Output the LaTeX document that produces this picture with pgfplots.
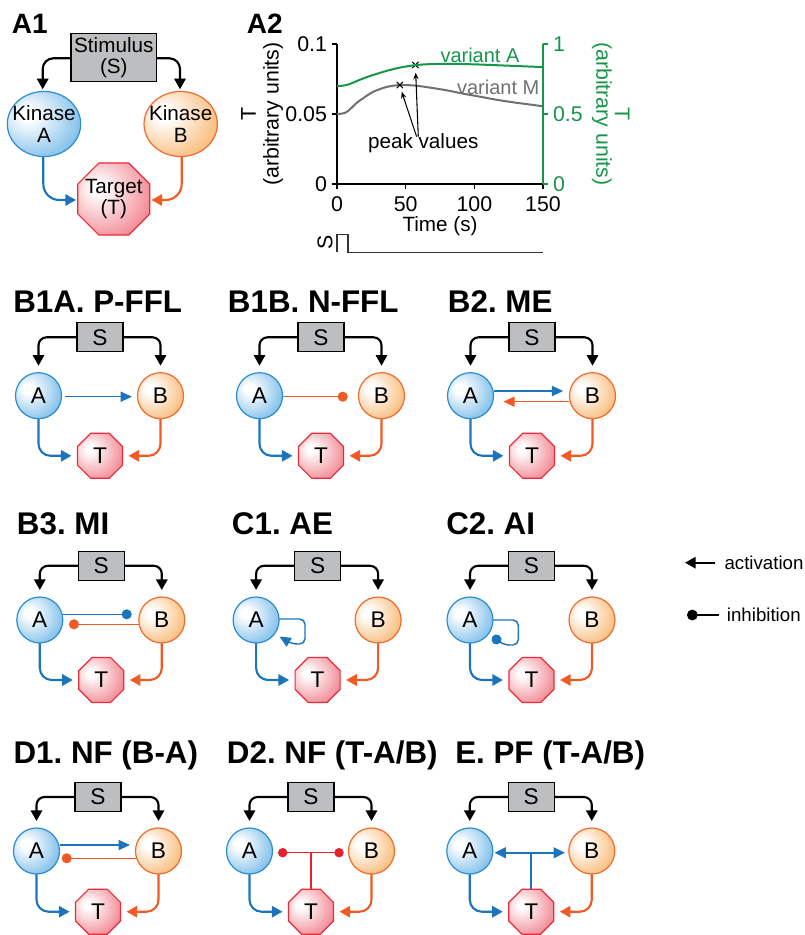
\documentclass[border=0pt]{standalone}
\usepackage{pgfplots}
\pgfplotsset{compat=1.18}
\usepackage{fontspec}
\setmainfont{Liberation Sans}
\usetikzlibrary{arrows.meta,calc,shapes.geometric}
\frenchspacing

\definecolor{cBlue}{HTML}{1C75BC}
\definecolor{cAline}{HTML}{2B8DD0}
\definecolor{cAfill}{HTML}{3F9EDF}
\definecolor{cOrange}{HTML}{F15A24}
\definecolor{cBline}{HTML}{F26B2D}
\definecolor{cBfill}{HTML}{F59A38}
\definecolor{cTline}{HTML}{EC2B3A}
\definecolor{cTfill}{HTML}{EA4A5A}
\definecolor{cRed}{HTML}{E8202E}
\definecolor{cS}{HTML}{BCBEC0}
\definecolor{cGreen}{HTML}{16964A}
\definecolor{cGray}{HTML}{707070}

\pgfdeclareradialshading{ballA}{\pgfpoint{-12bp}{8bp}}{color(0bp)=(white); color(5bp)=(white); color(48bp)=(cAfill); color(80bp)=(cAfill)}
\pgfdeclareradialshading{ballB}{\pgfpoint{-12bp}{8bp}}{color(0bp)=(white); color(5bp)=(white); color(48bp)=(cBfill); color(80bp)=(cBfill)}
\pgfdeclareradialshading{ballT}{\pgfpoint{-12bp}{8bp}}{color(0bp)=(white); color(4bp)=(white); color(50bp)=(cTfill); color(80bp)=(cTfill)}

\newcommand\nf{\fontsize{17}{19}\selectfont}
\newcommand\ttl{\fontsize{23.5}{26}\selectfont\bfseries}
\newcommand\af{\fontsize{15.5}{16}\selectfont}

\tikzset{
  act/.style={-{Triangle[length=8pt,width=8.5pt]}},
  acts/.style={-{Triangle[length=8.5pt,width=7.5pt]}},
  inh/.style={-{Circle[length=7.5pt]}},
  ballnode/.style={circle, line width=0.9pt, minimum size=34.5pt, inner sep=0pt, font=\nf, shade},
}

\newcommand{\octo}[4]{%
  \shadedraw[shading=#4, draw=cTline, line width=0.9pt, shift={(#1,#2)}]
    (22.5:#3) -- (67.5:#3) -- (112.5:#3) -- (157.5:#3) -- (202.5:#3) -- (247.5:#3) -- (292.5:#3) -- (337.5:#3) -- cycle;}

% #1 S x, #2 S y, #3 circle y, #4 T y
\newcommand{\panel}[4]{%
  \draw[line width=1.6pt, act, rounded corners=6pt] (#1-23,#2) -| (#1-61.5,#3-30);
  \draw[line width=1.6pt, act, rounded corners=6pt] (#1+23,#2) -| (#1+60.5,#3-30);
  \draw[cBlue, line width=1.6pt, act, rounded corners=9pt] (#1-61.5,#3+23) |- (#1-28.5,#4);
  \draw[cOrange, line width=1.6pt, act, rounded corners=9pt] (#1+60.5,#3+23) |- (#1+28.5,#4);
  \node[draw=black, line width=1pt, fill=cS, minimum width=34.5pt, minimum height=21.75pt, inner sep=0pt, font=\nf] at (#1,#2) {S};
  \node[ballnode, draw=cAline, shading=ballA] at (#1-61.5,#3) {A};
  \node[ballnode, draw=cBline, shading=ballB] at (#1+60.5,#3) {B};
  \octo{#1}{#4}{24.35}{ballT}
  \node[font=\nf] at (#1,#4) {T};
}

\begin{document}
\begin{tikzpicture}
\path[use as bounding box] (0,0) rectangle (603pt,-701.25pt);

\begin{scope}[x=0.75pt,y=-0.75pt]
% ---------- panel labels ----------
\node[anchor=base west, inner sep=0pt, font=\fontsize{21}{24}\selectfont\bfseries] at (11.7,33.3) {A1};
\node[anchor=base west, inner sep=0pt, font=\fontsize{21}{24}\selectfont\bfseries] at (246.7,33.3) {A2};

% ---------- A1 ----------
\draw[line width=1.6pt, act, rounded corners=8pt] (71,58.3) -| (42.7,89.3);
\draw[line width=1.6pt, act, rounded corners=8pt] (156.7,58.3) -| (180,89.3);
\draw[cBlue, line width=1.6pt, act, rounded corners=12pt] (43.3,156) |- (76,200);
\draw[cOrange, line width=1.6pt, act, rounded corners=12pt] (181.7,156) |- (151.5,200);
\node[draw=black, line width=1pt, fill=cS, minimum width=64.3pt, minimum height=36.3pt, inner sep=0pt, align=center, font=\af] at (113.8,57.5) {Stimulus\\(S)};
\shadedraw[shading=ballA, draw=cAline, line width=0.9pt] (44,124) ellipse [x radius=27.5pt, y radius=24.4pt];
\node[align=center, inner sep=0pt, font=\af] at (44,124) {Kinase\\A};
\shadedraw[shading=ballB, draw=cBline, line width=0.9pt] (180.7,124) ellipse [x radius=27.5pt, y radius=24.4pt];
\node[align=center, inner sep=0pt, font=\af] at (180.7,124) {Kinase\\B};
\octo{113.8}{199}{38.97}{ballT}
\node[align=center, font=\af] at (113.8,199) {Target\\(T)};

% ---------- titles ----------
\node[anchor=base west, inner sep=0pt, font=\ttl] at (13,312.7) {B1A. P-FFL};
\node[anchor=base west, inner sep=0pt, font=\ttl] at (227.7,312.7) {B1B. N-FFL};
\node[anchor=base west, inner sep=0pt, font=\ttl] at (447.7,312.7) {B2. ME};
\node[anchor=base west, inner sep=0pt, font=\ttl] at (16.7,534) {B3. MI};
\node[anchor=base west, inner sep=0pt, font=\ttl] at (231.7,534) {C1. AE};
\node[anchor=base west, inner sep=0pt, font=\ttl] at (446,534) {C2. AI};
\node[anchor=base west, inner sep=0pt, font=\ttl] at (13.3,763.3) {D1. NF (B-A)};
\node[anchor=base west, inner sep=0pt, font=\ttl] at (226.7,763.3) {D2. NF (T-A/B)};
\node[anchor=base west, inner sep=0pt, font=\ttl] at (455,763.3) {E. PF (T-A/B)};

% ---------- row 1 ----------
\draw[cBlue, line width=1.1pt, acts] (65,396.7) -- (132,396.7);
\panel{100}{337.3}{395.7}{455.8}

\draw[cOrange, line width=1.1pt, inh] (282.5,396.7) -- (347.7,396.7);
\panel{321}{337.3}{395.7}{455.8}

\draw[cBlue, line width=1.1pt, acts] (493.5,391) -- (563.3,391);
\draw[cOrange, line width=1.1pt, acts] (569,401.7) -- (503.3,401.7);
\panel{532}{337.3}{395.7}{455.8}

% ---------- row 2 ----------
\draw[cBlue, line width=1.1pt, inh] (62.8,614.3) -- (131.7,614.3);
\draw[cOrange, line width=1.1pt, inh] (138.8,624.3) -- (69,624.3);
\panel{101.3}{565.8}{620}{680}

\draw[cBlue, line width=1.1pt, acts, rounded corners=4pt] (278.6,619) -- (305,619) -- (305,644) -- (292,644) -- (279.5,636.5);
\panel{317.6}{565.8}{620}{680}

\draw[cBlue, line width=1.1pt, inh, rounded corners=4pt] (492.5,620) -- (518.3,620) -- (518.3,645) -- (504,645) -- (492.5,636.5);
\panel{531.5}{565.8}{620}{680}

% ---------- row 3 ----------
\draw[cBlue, line width=1.1pt, acts] (59.5,845) -- (130,845);
\draw[cOrange, line width=1.1pt, inh] (135.5,858.3) -- (61.7,858.3);
\panel{98}{797}{851}{911.7}

\draw[cRed, line width=1pt, {Circle[length=7pt]}-{Circle[length=7pt]}] (278,852.7) -- (343.7,852.7);
\draw[cRed, line width=1pt] (311,852.7) -- (311,889.5);
\panel{311}{797}{851}{911.7}

\draw[cBlue, line width=1.5pt, {Triangle[length=8.5pt,width=8pt]}-{Triangle[length=8.5pt,width=8pt]}] (494.5,852.7) -- (565,852.7);
\draw[cBlue, line width=1.5pt] (530.5,852.7) -- (530.5,889.5);
\panel{531.3}{797}{851}{911.7}

% ---------- legend ----------
\draw[line width=1.6pt, act] (715,562.7) -- (685,562.7);
\node[anchor=west, inner sep=0pt, font=\fontsize{14}{16}\selectfont] at (724.3,562.7) {activation};
\draw[line width=1.6pt, {Circle[length=8pt]}-] (687,615) -- (719.3,615);
\node[anchor=west, inner sep=0pt, font=\fontsize{14}{16}\selectfont] at (726.7,615) {inhibition};
\end{scope}

% ---------- A2 chart ----------
\begin{axis}[
  at={(252.75pt,-138pt)}, anchor=south west,
  width=154.5pt, height=105pt, scale only axis,
  xmin=0, xmax=150, ymin=0, ymax=0.1,
  axis x line*=bottom, axis y line*=left,
  axis line style={line width=1pt},
  xtick={0,50,100,150}, xticklabels={0,50,100,150},
  ytick={0,0.05,0.1}, yticklabels={0,0.05,0.1},
  scaled y ticks=false,
  tick align=outside, major tick length=4pt,
  tick style={line width=0.8pt, black},
  /pgf/number format/assume math mode=true,
  ticklabel style={font=\fontsize{16}{18}\selectfont},
  xticklabel style={yshift=-2pt},
  xlabel={Time (s)},
  xlabel style={font=\fontsize{15.5}{17}\selectfont, yshift=3pt},
  ylabel={T\\(arbitrary units)},
  ylabel shift=-5pt,
  ylabel style={align=center, font=\fontsize{16}{17}\selectfont},
  clip=false,
]
\addplot[cGray, line width=1.5pt, smooth] coordinates {
 (0,0.0500) (3,0.0502) (5.6,0.0507) (8.5,0.0525) (11.7,0.0555) (15,0.0585) (19,0.0612) (22.5,0.0636) (26,0.0657) (31,0.0677) (36,0.0693) (41,0.0702) (45.8,0.0707) (52,0.0706) (58,0.0702) (68,0.0688) (80,0.0669) (92,0.0645) (104,0.0624) (116,0.0602) (128.6,0.0583) (141,0.0567) (150,0.0555)};
\addplot[black!80, line width=0.8pt, sharp plot] coordinates {
 (0,-0.0486) (0,-0.0364) (8,-0.0364) (8,-0.0486) (150,-0.0486)};
\addplot[only marks, mark=x, mark size=3.3pt, black, mark options={line width=0.8pt}] coordinates {(45.8,0.0707) (57,0.0850)};
\draw[-{Stealth[length=5pt,width=4pt]}, line width=0.8pt] (axis cs:58,0.0338) -- (axis cs:47.1,0.0659);
\draw[-{Stealth[length=5pt,width=4pt]}, line width=0.8pt] (axis cs:59.2,0.0338) -- (axis cs:57.3,0.0795);
\node[font=\fontsize{15.5}{17}\selectfont] at (axis cs:62.8,0.0291) {peak values};
\node[font=\fontsize{15}{17}\selectfont, text=cGreen] at (axis cs:104.1,0.0921) {variant A};
\node[font=\fontsize{15}{17}\selectfont, text=cGray] at (axis cs:117.4,0.0691) {variant M};
\node[rotate=90, font=\fontsize{16}{18}\selectfont] at (axis cs:-8.7,-0.0419) {S};
\end{axis}

\begin{axis}[
  at={(252.75pt,-138pt)}, anchor=south west,
  width=154.5pt, height=105pt, scale only axis,
  xmin=0, xmax=150, ymin=0, ymax=1,
  axis x line=none, axis y line*=right,
  y axis line style={cGreen, line width=1pt},
  ytick={0,0.5,1}, yticklabels={0,0.5,1},
  tick align=outside, major tick length=4pt,
  ytick style={cGreen, line width=0.8pt},
  /pgf/number format/assume math mode=true,
  yticklabel style={text=cGreen, font=\fontsize{16}{18}\selectfont},
  ylabel={T\\(arbitrary units)},
  ylabel style={align=center, text=cGreen, rotate=180, font=\fontsize{16}{14}\selectfont},
  clip=false,
]
\addplot[cGreen, line width=1.5pt, smooth] coordinates {
 (0,0.700) (4,0.702) (8,0.710) (12,0.725) (16,0.742) (20,0.757) (25,0.775) (30,0.790) (35,0.805) (40,0.818) (45,0.830) (50,0.839) (57,0.849) (65,0.855) (75,0.858) (85,0.858) (95,0.856) (105,0.853) (115,0.849) (125,0.845) (135,0.841) (150,0.835)};
\end{axis}
\end{tikzpicture}
\end{document}
